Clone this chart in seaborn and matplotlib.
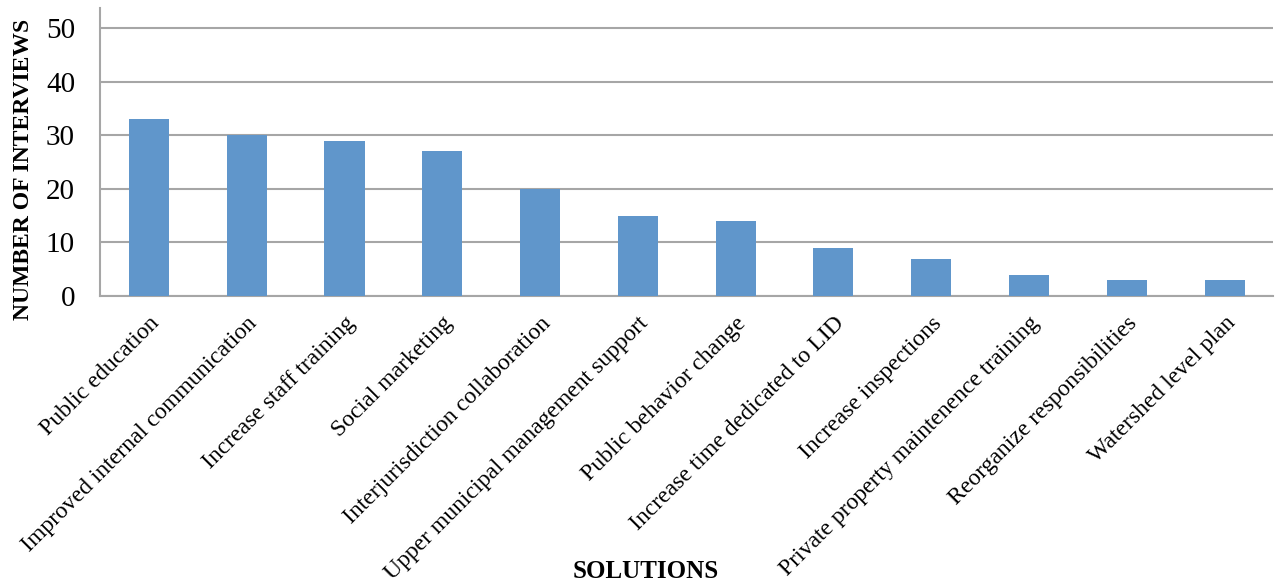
import matplotlib
matplotlib.use("Agg")
import matplotlib.pyplot as plt
import seaborn as sns
import pandas as pd

# data
solutions = ["Public education", "Improved internal communication", "Increase staff training",
             "Social marketing", "Interjurisdiction collaboration", "Upper municipal management support",
             "Public behavior change", "Increase time dedicated to LID", "Increase inspections",
             "Private property maintenence training", "Reorganize responsibilities", "Watershed level plan"]
interviews = [33, 30, 29, 27, 20, 15, 14, 9, 7, 4, 3, 3]
y_ticks = [0, 10, 20, 30, 40, 50]

df = pd.DataFrame({"solution": solutions, "count": interviews})

sns.set_style("white")
plt.rcParams['font.family'] = ['Liberation Serif', 'DejaVu Serif']
plt.rcParams['text.color'] = 'black'
plt.rcParams['axes.labelcolor'] = 'black'
plt.rcParams['xtick.color'] = 'black'
plt.rcParams['ytick.color'] = 'black'

fig = plt.figure(figsize=(12.76, 5.84), dpi=100)
ax = fig.add_axes([0.0784, 0.493, 0.9196, 0.493])

sns.barplot(data=df, x="solution", y="count", color="#6096CB", width=0.41,
            saturation=1, linewidth=0, ax=ax, zorder=3)

ax.set_ylim(0, 53.7)
ax.set_yticks(y_ticks)
ax.yaxis.grid(True, color="#A6A6A6", linewidth=1.5, zorder=0)
ax.set_axisbelow(True)
for s in ["top", "right"]:
    ax.spines[s].set_visible(False)
for s in ["left", "bottom"]:
    ax.spines[s].set_color("#A6A6A6")
    ax.spines[s].set_linewidth(1.5)
ax.tick_params(axis="both", length=0)
ax.tick_params(axis="y", labelsize=21, pad=18)
ax.set_xticks(range(len(solutions)))
ax.set_xticklabels(solutions, rotation=45, ha="right", rotation_mode="anchor", fontsize=17)
ax.tick_params(axis="x", pad=12)

ax.set_ylabel("NUMBER OF INTERVIEWS", fontsize=17, fontweight="bold")
ax.yaxis.set_label_coords(-0.056, 0.44)
ax.set_xlabel("SOLUTIONS", fontsize=18, fontweight="bold")
ax.xaxis.set_label_coords(0.465, -0.915)

fig.savefig("out.png", dpi=100)
